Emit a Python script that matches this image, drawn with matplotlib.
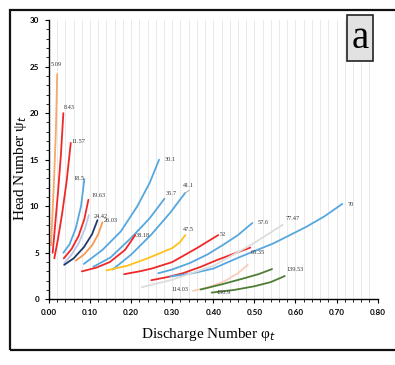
import matplotlib.pyplot as plt
import matplotlib.patches as patches
from matplotlib.ticker import MultipleLocator

# discharge number (phi) and head number (psi) for each curve, keyed by label
phi = {
    '5.09':   [0.005, 0.009, 0.013, 0.017, 0.020],
    '8.43':   [0.009, 0.015, 0.022, 0.029, 0.035],
    '11.57':  [0.013, 0.022, 0.032, 0.043, 0.053],
    '18.5':   [0.035, 0.050, 0.065, 0.078, 0.086],
    '19.63':  [0.036, 0.055, 0.072, 0.086, 0.096],
    'lav':    [0.037, 0.055, 0.072, 0.087, 0.097],
    '24.42':  [0.037, 0.060, 0.085, 0.105, 0.118],
    '26.03':  [0.065, 0.085, 0.105, 0.120, 0.130],
    '30.1':   [0.085, 0.130, 0.175, 0.215, 0.245, 0.268],
    '35.7':   [0.108, 0.150, 0.200, 0.245, 0.281],
    '38.18':  [0.080, 0.115, 0.148, 0.185, 0.210],
    '41.1':   [0.155, 0.200, 0.250, 0.295, 0.331],
    '47.5':   [0.140, 0.190, 0.240, 0.300, 0.318, 0.332],
    '52':     [0.183, 0.220, 0.250, 0.300, 0.360, 0.412],
    '57.6':   [0.266, 0.300, 0.343, 0.385, 0.424, 0.460, 0.495],
    '65.35':  [0.249, 0.290, 0.326, 0.370, 0.408, 0.450, 0.490],
    '70':     [0.295, 0.350, 0.400, 0.465, 0.546, 0.627, 0.670, 0.714],
    '77.47':  [0.226, 0.300, 0.400, 0.490, 0.569],
    '114.03': [0.350, 0.390, 0.430, 0.460, 0.484],
    '139.53': [0.369, 0.420, 0.470, 0.510, 0.543],
    '150.9':  [0.396, 0.450, 0.500, 0.540, 0.574],
}
psi = {
    '5.09':   [5.8, 9.6, 13.6, 18.4, 24.2],
    '8.43':   [5.0, 8.0, 11.5, 15.5, 20.0],
    '11.57':  [4.4, 6.5, 9.2, 12.7, 16.8],
    '18.5':   [5.0, 5.9, 7.6, 10.0, 12.9],
    '19.63':  [4.4, 5.4, 6.8, 8.6, 10.7],
    'lav':    [3.9, 4.8, 6.0, 7.5, 9.05],
    '24.42':  [3.7, 4.4, 5.6, 7.0, 8.5],
    '26.03':  [4.15, 4.8, 5.8, 7.0, 8.27],
    '30.1':   [3.8, 5.3, 7.3, 10.0, 12.5, 15.0],
    '35.7':   [3.5, 4.5, 6.6, 8.7, 10.8],
    '38.18':  [3.0, 3.4, 4.0, 5.3, 6.9],
    '41.1':   [3.2, 4.8, 7.0, 9.3, 11.4],
    '47.5':   [3.1, 3.6, 4.4, 5.5, 6.1, 6.9],
    '52':     [2.7, 3.0, 3.3, 4.0, 5.5, 6.9],
    '57.6':   [2.8, 3.2, 3.9, 4.8, 5.85, 6.9, 8.2],
    '65.35':  [2.05, 2.4, 2.8, 3.5, 4.2, 4.9, 5.55],
    '70':     [2.45, 2.8, 3.3, 4.55, 6.0, 7.8, 8.9, 10.25],
    '77.47':  [1.3, 2.1, 3.6, 5.8, 8.0],
    '114.03': [0.9, 1.3, 2.0, 2.8, 3.7],
    '139.53': [1.05, 1.6, 2.2, 2.7, 3.25],
    '150.9':  [0.72, 1.0, 1.4, 1.85, 2.5],
}

# label positions (left edge of text)
label_x = {'5.09': 0.005, '8.43': 0.035, '11.57': 0.055, '18.5': 0.060, '19.63': 0.104,
           '24.42': 0.110, '26.03': 0.133, '30.1': 0.281, '35.7': 0.284, '41.1': 0.327,
           '38.18': 0.212, '47.5': 0.325, '52': 0.416, '57.6': 0.507, '65.35': 0.490,
           '70': 0.727, '77.47': 0.576, '114.03': 0.297, '139.53': 0.578, '150.9': 0.407}
label_y = {'5.09': 25.2, '8.43': 20.6, '11.57': 17.0, '18.5': 13.0, '19.63': 11.2,
           '24.42': 8.9, '26.03': 8.5, '30.1': 15.0, '35.7': 11.4, '41.1': 12.2,
           '38.18': 6.9, '47.5': 7.5, '52': 7.0, '57.6': 8.2, '65.35': 5.05,
           '70': 10.2, '77.47': 8.7, '114.03': 1.0, '139.53': 3.15, '150.9': 0.7}

blue = '#56a7e0'
red = '#f02828'
colors = {'5.09': '#f7a86a', '8.43': red, '11.57': red, '18.5': blue, '19.63': red,
          'lav': '#b8c9e8', '24.42': '#1f3a6b', '26.03': '#f79a50', '30.1': blue,
          '35.7': blue, '38.18': red, '41.1': blue, '47.5': '#ffc21a', '52': red,
          '57.6': blue, '65.35': red, '70': blue, '77.47': '#dcdcdc',
          '114.03': '#f9cdbb', '139.53': '#4e7d35', '150.9': '#4e7d35'}

plt.rcParams['font.family'] = ['Liberation Serif', 'DejaVu Serif']

fig = plt.figure(figsize=(3.95, 3.65), dpi=100)
ax = fig.add_axes([0.124, 0.180, 0.832, 0.765])

for k in phi:
    ax.plot(phi[k], psi[k], color=colors[k], lw=1.3, solid_capstyle='round')
# small gray tick at end of 41.1 curve
ax.plot([phi['41.1'][-1], 0.341], [psi['41.1'][-1], 11.7], color='#999999', lw=0.6)

for k in label_x:
    ax.text(label_x[k], label_y[k], k, fontsize=4.5, color='#333333', va='center', ha='left')

ax.set_xlim(0, 0.8)
ax.set_ylim(0, 30)
ax.xaxis.set_minor_locator(MultipleLocator(0.02))
ax.yaxis.set_major_locator(MultipleLocator(5))
ax.yaxis.set_minor_locator(MultipleLocator(1))
ax.set_xticks([i / 10 for i in range(9)])
ax.set_xticklabels(['%.2f' % (i / 10) for i in range(9)])
ax.grid(axis='x', which='both', color='#e6e6e6', lw=0.6)
ax.set_axisbelow(True)
for s in ['top', 'right']:
    ax.spines[s].set_visible(False)
ax.spines['left'].set_linewidth(1.0)
ax.spines['bottom'].set_linewidth(1.0)
ax.tick_params(which='major', length=3, width=0.8, pad=4)
ax.tick_params(which='minor', length=2, width=0.6)
for lab in ax.get_xticklabels() + ax.get_yticklabels():
    lab.set_fontfamily('Lato')
    lab.set_fontweight('bold')
    lab.set_fontsize(5.8)

ax.set_xlabel(r'Discharge Number φ$_{t}$', fontsize=11)
ax.set_ylabel(r'Head Number ψ$_{t}$', fontsize=11)
ax.xaxis.set_label_coords(0.484, -0.095)
ax.yaxis.set_label_coords(-0.06, 0.47)

# "a" panel box
fig.text(360 / 395, 1 - 38 / 365, 'a', fontsize=28, ha='center', va='center',
         bbox=dict(boxstyle='square,pad=0.12', facecolor='#e2e2e2', edgecolor='#222222', lw=1.2))

# outer frame
fig.patches.append(patches.Rectangle((10 / 395, 15 / 365), 400 / 395, 340 / 365,
                                     transform=fig.transFigure, fill=False,
                                     edgecolor='#111111', lw=1.6))

fig.savefig('out.png', dpi=100)
